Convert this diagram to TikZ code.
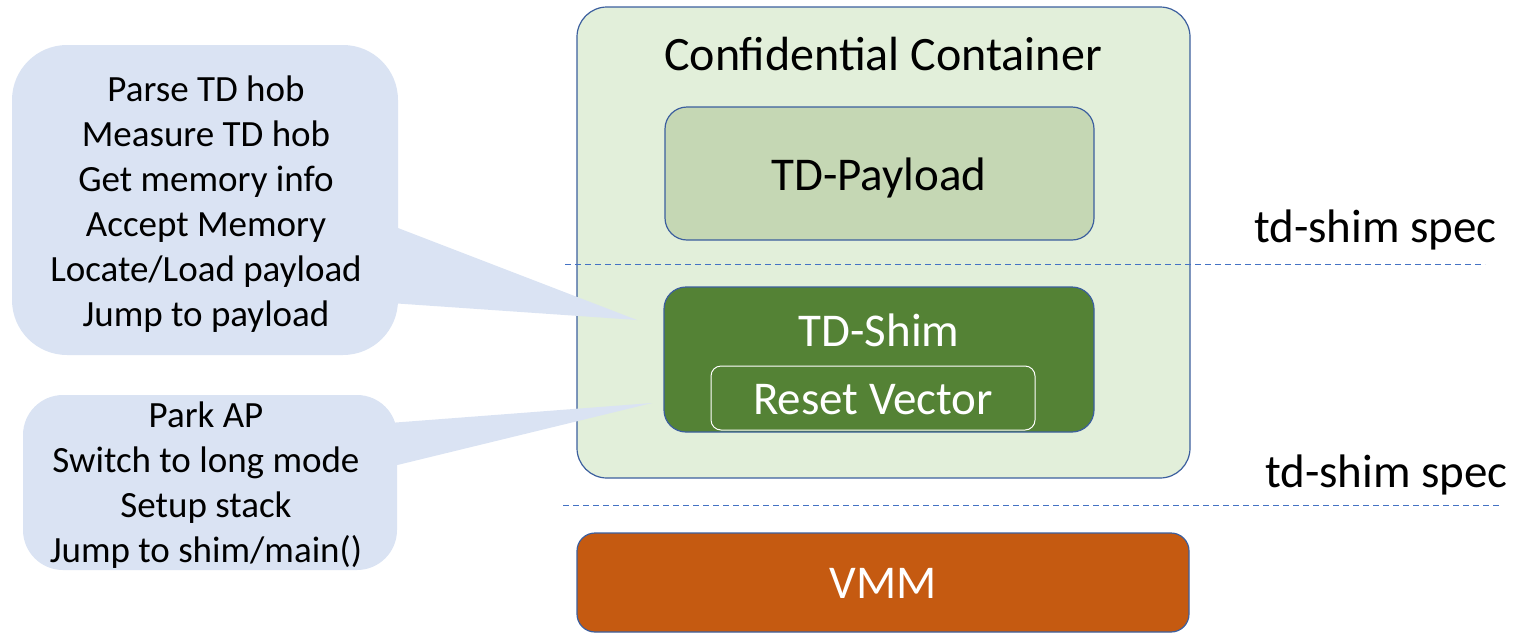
\documentclass[tikz,border=0pt]{standalone}
\usepackage{fontspec}
\setmainfont{Carlito}
\usetikzlibrary{calc}
\definecolor{ccfill}{HTML}{E2EFDA}
\definecolor{payfill}{HTML}{C5D7B4}
\definecolor{shimfill}{HTML}{548235}
\definecolor{vmmfill}{HTML}{C55A11}
\definecolor{callfill}{HTML}{DAE3F3}
\definecolor{edge}{HTML}{3C5F9E}
\definecolor{dashc}{HTML}{4472C4}
\tikzset{
  box/.style={draw=edge, line width=1.2pt, inner sep=0pt},
  bubble/.style={fill=callfill, draw=none, inner sep=0pt},
  specline/.style={draw=dashc, line width=1pt, dash pattern=on 6pt off 4pt},
  bigtext/.style={anchor=base, inner sep=0pt, font=\fontsize{47}{56}\selectfont},
  calltext/.style={align=center, inner sep=0pt, font=\fontsize{37}{45}\selectfont},
}
\begin{document}
\begin{tikzpicture}[x=1pt,y=-1pt]
\useasboundingbox (0,0) rectangle (1517,633);

% container and its components
\node[box, fill=ccfill, minimum width=613pt, minimum height=471pt, rounded corners=30pt] (cc) at (883.5,242.5) {};
\node[box, fill=payfill, minimum width=429pt, minimum height=133pt, rounded corners=22pt] (pay) at (879.5,173.5) {};
\node[box, fill=shimfill, minimum width=430pt, minimum height=145pt, rounded corners=22pt] (shim) at (879,359.5) {};
\node[draw=white, line width=1pt, inner sep=0pt, minimum width=324pt, minimum height=64pt, rounded corners=10pt] (rv) at (873,398) {};
\node[box, fill=vmmfill, minimum width=612pt, minimum height=99pt, rounded corners=18pt] (vmm) at (883,582.5) {};

% callout bubbles with their pointers
\node[bubble, minimum width=386pt, minimum height=310pt, rounded corners=55pt] (bubA) at (205,200) {};
\node[bubble, minimum width=374pt, minimum height=175pt, rounded corners=40pt] (bubB) at (210,482.5) {};
\coordinate (tipA) at (637,320);
\coordinate (tipB) at (652,403);
\fill[callfill] ([shift={(-8,25)}]bubA.east) -- (tipA) -- ([shift={(-8,103)}]bubA.east) -- cycle;
\fill[callfill] ([shift={(-8,-59.5)}]bubB.east) -- (tipB) -- ([shift={(-8,-15.5)}]bubB.east) -- cycle;
\node[calltext] (txtA) at (206,204) {Parse TD hob\\Measure TD hob\\Get memory info\\Accept Memory\\Locate/Load payload\\Jump to payload};
\node[calltext] (txtB) at (206,485) {Park AP\\Switch to long mode\\Setup stack\\Jump to shim/main()};

% specification boundaries
\coordinate (l1a) at (565,264);
\coordinate (l1b) at (1485,264);
\coordinate (l2a) at (563,505);
\coordinate (l2b) at (1500,505);
\draw[specline] (l1a) -- (l1b);
\draw[specline] (l2a) -- (l2b);

% labels
\node[bigtext, font=\fontsize{48}{57}\selectfont] (cct) at (883,70) {Confidential Container};
\node[bigtext] (payt) at (879,190) {TD-Payload};
\node[bigtext, text=white] (shimt) at (879,346) {TD-Shim};
\node[bigtext, text=white] (rvt) at (873,414) {Reset Vector};
\node[bigtext, text=white] (vmmt) at (883,598) {VMM};
\node[bigtext, anchor=base east] (spec1) at (1497,242) {td-shim spec};
\node[bigtext, anchor=base east] (spec2) at (1508,487) {td-shim spec};
\end{tikzpicture}
\end{document}
